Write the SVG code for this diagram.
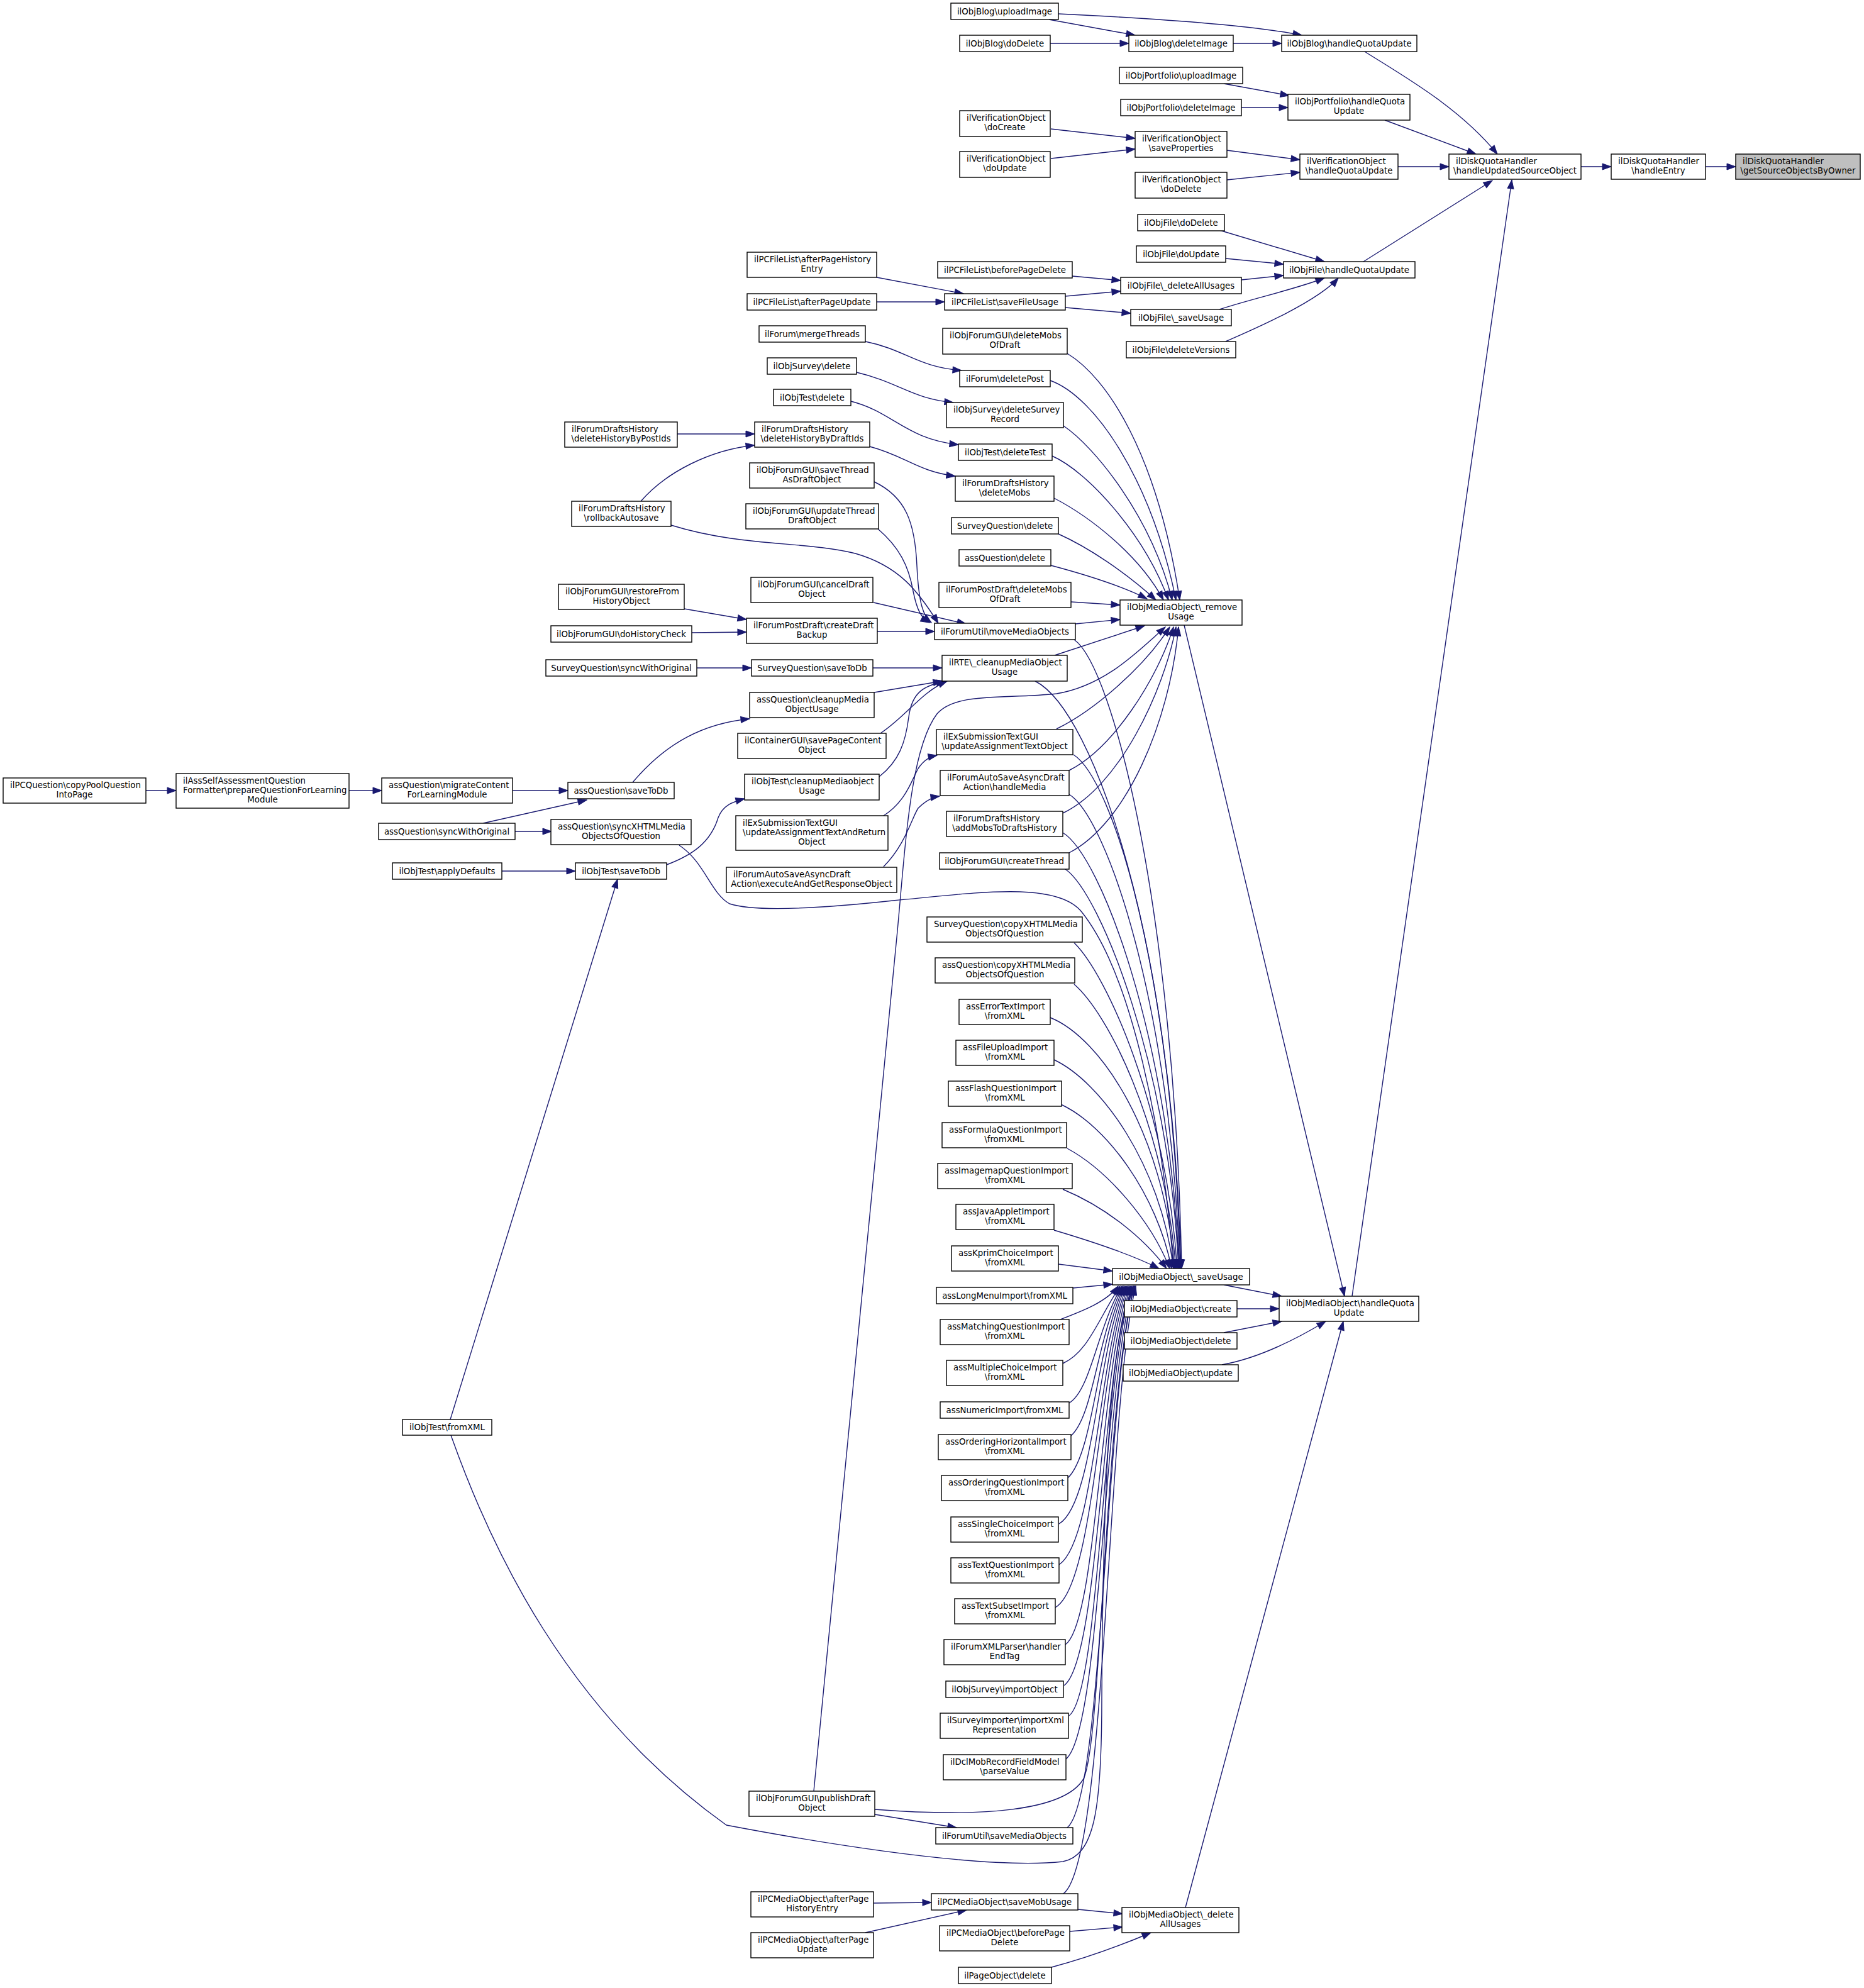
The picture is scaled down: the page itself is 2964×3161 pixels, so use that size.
<svg xmlns="http://www.w3.org/2000/svg" width="2964" height="3161" viewBox="0 0 2964 3161">
<style>
.node rect{fill:#fff;stroke:#000;stroke-width:1.4}
.root rect{fill:#bfbfbf}
text{font-family:"DejaVu Sans","Liberation Sans",sans-serif;font-size:13.33px;fill:#000}
.c{text-anchor:middle}
.l{text-anchor:start}
#edges path{fill:none;stroke:#191970;stroke-width:1.4;marker-end:url(#a)}
</style>
<defs>
<marker id="a" markerUnits="userSpaceOnUse" markerWidth="16" markerHeight="12" refX="14" refY="5" orient="auto" overflow="visible"><path d="M0,0 L14,5 L0,10 z" fill="#191970" stroke="#191970" stroke-width="1"/></marker>
</defs>
<rect width="2964" height="3161" fill="#fff"/>
<g id="edges">
<path d="M2712,265 L2760,265"/>
<path d="M2514,265 L2562,265"/>
<path d="M2170,82 C2230,120 2320,170 2381,245"/>
<path d="M2202,191 L2347,245"/>
<path d="M2223,265 L2304,265"/>
<path d="M2168,416 L2373,287"/>
<path d="M2150,2061 L2404,286"/>
<path d="M1683,22 C1850,30 1990,40 2070,56"/>
<path d="M1668,31 L1805,56"/>
<path d="M1670,69 L1795,69"/>
<path d="M1961,69 L2038,69"/>
<path d="M1946,133 L2050,152"/>
<path d="M1974,171 L2048,171"/>
<path d="M1671,205 L1805,220"/>
<path d="M1671,252 L1805,237"/>
<path d="M1951,239 L2067,254"/>
<path d="M1951,286 L2067,274"/>
<path d="M1939,366 L2106,416"/>
<path d="M1949,411 L2041,420"/>
<path d="M1974,445 L2041,438"/>
<path d="M1939,492 C1990,475 2060,460 2106,442"/>
<path d="M1949,543 C1990,525 2095,480 2128,442"/>
<path d="M1705,439 L1782,446"/>
<path d="M1694,471 L1782,463"/>
<path d="M1694,489 L1798,498"/>
<path d="M1394,441 L1532,467"/>
<path d="M1394,480 L1502,480"/>
<path d="M1376,543 C1440,556 1460,584 1529,589"/>
<path d="M1362,592 C1430,608 1450,634 1516,640"/>
<path d="M1353,638 C1420,655 1440,698 1524,707"/>
<path d="M1077,690 L1200,690"/>
<path d="M1019,797 C1060,750 1130,715 1200,708"/>
<path d="M1383,710 C1440,725 1460,750 1519,757"/>
<path d="M1067,835 C1180,870 1280,860 1360,880 C1430,900 1460,940 1492,991"/>
<path d="M1390,766 C1440,790 1455,830 1458,900 C1461,960 1468,980 1481,990"/>
<path d="M1396,841 C1430,870 1445,900 1452,940 C1458,970 1465,983 1478,990"/>
<path d="M1389,958 L1536,992"/>
<path d="M1395,1004 L1486,1004"/>
<path d="M1088,968 L1187,985"/>
<path d="M1100,1006 L1187,1005"/>
<path d="M1108,1062 L1195,1062"/>
<path d="M1388,1062 L1498,1062"/>
<path d="M1390,1101 L1498,1083"/>
<path d="M1400,1166 C1440,1140 1465,1100 1506,1083"/>
<path d="M1398,1235 C1430,1210 1440,1180 1445,1140 C1450,1100 1470,1090 1503,1083"/>
<path d="M1060,1375 C1100,1360 1130,1340 1142,1300 C1150,1280 1165,1275 1184,1270"/>
<path d="M1006,1244 C1060,1180 1120,1150 1192,1143"/>
<path d="M815,1257 L903,1257"/>
<path d="M768,1309 L933,1272"/>
<path d="M819,1322 L877,1322"/>
<path d="M798,1385 L915,1385"/>
<path d="M716,2257 L982,1398"/>
<path d="M232,1257 L280,1257"/>
<path d="M555,1257 L607,1257"/>
<path d="M1405,1378 C1440,1343 1450,1300 1460,1285 C1470,1275 1480,1268 1494,1266"/>
<path d="M1405,1297 C1440,1275 1450,1240 1460,1222 C1470,1207 1480,1203 1490,1201"/>
<path d="M1294,2848 L1427,1480 C1440,1340 1448,1190 1490,1135 C1520,1100 1600,1112 1680,1103 C1760,1090 1815,1030 1853,997"/>
<path d="M1697,562 C1760,600 1840,720 1876,954"/>
<path d="M1670,605 C1740,630 1830,760 1870,954"/>
<path d="M1691,677 C1740,710 1830,820 1864,954"/>
<path d="M1673,725 C1730,750 1820,850 1858,954"/>
<path d="M1676,792 C1730,820 1810,880 1850,954"/>
<path d="M1683,849 C1730,870 1790,910 1838,954"/>
<path d="M1671,899 C1720,912 1780,930 1824,952"/>
<path d="M1703,957 L1781,962"/>
<path d="M1710,992 L1781,985"/>
<path d="M1677,1042 L1820,995"/>
<path d="M1680,1159 C1740,1130 1820,1060 1860,997"/>
<path d="M1700,1225 C1770,1190 1840,1080 1866,997"/>
<path d="M1690,1293 C1780,1250 1850,1100 1870,997"/>
<path d="M1700,1356 C1790,1310 1860,1150 1874,997"/>
<path d="M1883,994 L2138,2061"/>
<path d="M1708,1017 C1770,1060 1868,1450 1879,2017"/>
<path d="M1646,1083 C1740,1130 1865,1500 1878,2017"/>
<path d="M1707,1200 C1770,1240 1865,1550 1877,2017"/>
<path d="M1700,1263 C1760,1300 1862,1600 1876,2017"/>
<path d="M1690,1324 C1750,1360 1860,1650 1875,2017"/>
<path d="M1694,1382 C1750,1420 1860,1700 1874,2017"/>
<path d="M1080,1344 C1120,1370 1130,1420 1160,1437 C1200,1450 1300,1445 1420,1432 C1550,1420 1680,1400 1720,1450 C1800,1550 1850,1800 1866,2017"/>
<path d="M1708,1499 C1760,1550 1855,1760 1872,2017"/>
<path d="M1708,1565 C1760,1610 1850,1780 1870,2017"/>
<path d="M1670,1618 C1750,1650 1850,1800 1868,2017"/>
<path d="M1676,1685 C1750,1720 1845,1850 1866,2017"/>
<path d="M1687,1756 C1760,1790 1840,1900 1863,2017"/>
<path d="M1697,1826 C1760,1860 1830,1940 1860,2017"/>
<path d="M1690,1891 C1760,1920 1820,1970 1855,2017"/>
<path d="M1676,1956 C1740,1975 1800,1995 1843,2017"/>
<path d="M1683,2010 L1769,2021"/>
<path d="M1706,2048 L1769,2042"/>
<path d="M1686,2098 C1720,2085 1760,2070 1778,2045"/>
<path d="M1690,2168 C1730,2150 1745,2100 1781,2045"/>
<path d="M1700,2231 C1735,2210 1745,2110 1784,2045"/>
<path d="M1703,2283 C1740,2250 1745,2120 1786,2045"/>
<path d="M1698,2350 C1740,2310 1745,2130 1788,2045"/>
<path d="M1684,2423 C1740,2390 1745,2140 1790,2045"/>
<path d="M1684,2488 C1742,2450 1747,2150 1792,2045"/>
<path d="M1678,2556 C1742,2520 1748,2160 1794,2045"/>
<path d="M1694,2615 C1745,2580 1750,2170 1796,2045"/>
<path d="M1692,2680 C1748,2640 1752,2180 1798,2045"/>
<path d="M1700,2728 C1750,2690 1753,2190 1800,2045"/>
<path d="M1695,2797 C1752,2750 1755,2200 1802,2045"/>
<path d="M1697,2906 C1755,2860 1757,2220 1804,2045"/>
<path d="M1691,3011 C1760,2960 1760,2230 1806,2045"/>
<path d="M1391,2877 C1560,2890 1690,2880 1722,2830 C1752,2780 1755,2250 1803,2045"/>
<path d="M717,2282 C780,2460 900,2720 1155,2902 C1250,2920 1550,2975 1690,2960 C1740,2950 1752,2880 1752,2700 C1754,2300 1770,2100 1805,2045"/>
<path d="M1391,2885 L1521,2906"/>
<path d="M1714,3036 L1785,3043"/>
<path d="M1701,3071 L1785,3064"/>
<path d="M1672,3128 C1740,3110 1790,3090 1830,3073"/>
<path d="M1389,3026 L1481,3025"/>
<path d="M1376,3073 L1537,3037"/>
<path d="M1885,3033 L2136,2101"/>
<path d="M1946,2043 L2038,2061"/>
<path d="M1967,2081 L2034,2081"/>
<path d="M1946,2119 L2038,2101"/>
<path d="M1943,2170 C2000,2160 2060,2130 2108,2101"/>
</g>
<g id="n0" class="node root"><rect x="2760" y="245" width="198" height="40"/><text class="l" x="2771" y="261">ilDiskQuotaHandler</text><text class="c" x="2859" y="276">\getSourceObjectsByOwner</text></g>
<g id="n1" class="node"><rect x="2562" y="245" width="150" height="40"/><text class="l" x="2573" y="261">ilDiskQuotaHandler</text><text class="c" x="2637" y="276">\handleEntry</text></g>
<g id="n2" class="node"><rect x="2304" y="245" width="210" height="40"/><text class="l" x="2315" y="261">ilDiskQuotaHandler</text><text class="c" x="2409" y="276">\handleUpdatedSourceObject</text></g>
<g id="n3" class="node"><rect x="2038" y="56" width="215" height="26"/><text class="c" x="2145.5" y="73.5">ilObjBlog\handleQuotaUpdate</text></g>
<g id="n4" class="node"><rect x="2048" y="150" width="194" height="41"/><text class="l" x="2059" y="166">ilObjPortfolio\handleQuota</text><text class="c" x="2145" y="181">Update</text></g>
<g id="n5" class="node"><rect x="2067" y="245" width="156" height="40"/><text class="l" x="2078" y="261">ilVerificationObject</text><text class="c" x="2145" y="276">\handleQuotaUpdate</text></g>
<g id="n6" class="node"><rect x="2041" y="416" width="209" height="26"/><text class="c" x="2145.5" y="433.5">ilObjFile\handleQuotaUpdate</text></g>
<g id="n7" class="node"><rect x="2034" y="2061" width="222" height="40"/><text class="l" x="2045" y="2077">ilObjMediaObject\handleQuota</text><text class="c" x="2145" y="2092">Update</text></g>
<g id="n8" class="node"><rect x="1795" y="56" width="166" height="26"/><text class="c" x="1878" y="73.5">ilObjBlog\deleteImage</text></g>
<g id="n9" class="node"><rect x="1780" y="107" width="196" height="26"/><text class="c" x="1878" y="124.5">ilObjPortfolio\uploadImage</text></g>
<g id="n10" class="node"><rect x="1782" y="158" width="192" height="26"/><text class="c" x="1878" y="175.5">ilObjPortfolio\deleteImage</text></g>
<g id="n11" class="node"><rect x="1805" y="209" width="146" height="41"/><text class="l" x="1816" y="225">ilVerificationObject</text><text class="c" x="1878" y="240">\saveProperties</text></g>
<g id="n12" class="node"><rect x="1805" y="274" width="146" height="41"/><text class="l" x="1816" y="290">ilVerificationObject</text><text class="c" x="1878" y="305">\doDelete</text></g>
<g id="n13" class="node"><rect x="1809" y="341" width="138" height="26"/><text class="c" x="1878" y="358.5">ilObjFile\doDelete</text></g>
<g id="n14" class="node"><rect x="1807" y="391" width="142" height="26"/><text class="c" x="1878" y="408.5">ilObjFile\doUpdate</text></g>
<g id="n15" class="node"><rect x="1782" y="441" width="192" height="26"/><text class="c" x="1878" y="458.5">ilObjFile\_deleteAllUsages</text></g>
<g id="n16" class="node"><rect x="1798" y="492" width="160" height="26"/><text class="c" x="1878" y="509.5">ilObjFile\_saveUsage</text></g>
<g id="n17" class="node"><rect x="1791" y="543" width="174" height="26"/><text class="c" x="1878" y="560.5">ilObjFile\deleteVersions</text></g>
<g id="n18" class="node"><rect x="1781" y="954" width="194" height="40"/><text class="l" x="1792" y="970">ilObjMediaObject\_remove</text><text class="c" x="1878" y="985">Usage</text></g>
<g id="n19" class="node"><rect x="1769" y="2017" width="218" height="26"/><text class="c" x="1878" y="2034.5">ilObjMediaObject\_saveUsage</text></g>
<g id="n20" class="node"><rect x="1788" y="2068" width="179" height="26"/><text class="c" x="1877.5" y="2085.5">ilObjMediaObject\create</text></g>
<g id="n21" class="node"><rect x="1788" y="2119" width="179" height="26"/><text class="c" x="1877.5" y="2136.5">ilObjMediaObject\delete</text></g>
<g id="n22" class="node"><rect x="1786" y="2170" width="183" height="26"/><text class="c" x="1877.5" y="2187.5">ilObjMediaObject\update</text></g>
<g id="n23" class="node"><rect x="1784" y="3033" width="186" height="40"/><text class="l" x="1795" y="3049">ilObjMediaObject\_delete</text><text class="c" x="1877" y="3064">AllUsages</text></g>
<g id="n24" class="node"><rect x="1512" y="5" width="171" height="26"/><text class="c" x="1597.5" y="22.5">ilObjBlog\uploadImage</text></g>
<g id="n25" class="node"><rect x="1526" y="56" width="144" height="26"/><text class="c" x="1598" y="73.5">ilObjBlog\doDelete</text></g>
<g id="n26" class="node"><rect x="1526" y="176" width="144" height="41"/><text class="l" x="1537" y="192">ilVerificationObject</text><text class="c" x="1598" y="207">\doCreate</text></g>
<g id="n27" class="node"><rect x="1526" y="241" width="144" height="41"/><text class="l" x="1537" y="257">ilVerificationObject</text><text class="c" x="1598" y="272">\doUpdate</text></g>
<g id="n28" class="node"><rect x="1491" y="416" width="214" height="26"/><text class="c" x="1598" y="433.5">ilPCFileList\beforePageDelete</text></g>
<g id="n29" class="node"><rect x="1502" y="467" width="192" height="26"/><text class="c" x="1598" y="484.5">ilPCFileList\saveFileUsage</text></g>
<g id="n30" class="node"><rect x="1499" y="522" width="198" height="41"/><text class="l" x="1510" y="538">ilObjForumGUI\deleteMobs</text><text class="c" x="1598" y="553">OfDraft</text></g>
<g id="n31" class="node"><rect x="1526" y="589" width="144" height="26"/><text class="c" x="1598" y="606.5">ilForum\deletePost</text></g>
<g id="n32" class="node"><rect x="1505" y="640" width="186" height="40"/><text class="l" x="1516" y="656">ilObjSurvey\deleteSurvey</text><text class="c" x="1598" y="671">Record</text></g>
<g id="n33" class="node"><rect x="1524" y="706" width="149" height="26"/><text class="c" x="1598.5" y="723.5">ilObjTest\deleteTest</text></g>
<g id="n34" class="node"><rect x="1519" y="757" width="157" height="40"/><text class="l" x="1530" y="773">ilForumDraftsHistory</text><text class="c" x="1597.5" y="788">\deleteMobs</text></g>
<g id="n35" class="node"><rect x="1513" y="823" width="170" height="26"/><text class="c" x="1598" y="840.5">SurveyQuestion\delete</text></g>
<g id="n36" class="node"><rect x="1525" y="874" width="146" height="26"/><text class="c" x="1598" y="891.5">assQuestion\delete</text></g>
<g id="n37" class="node"><rect x="1493" y="926" width="210" height="40"/><text class="l" x="1504" y="942">ilForumPostDraft\deleteMobs</text><text class="c" x="1598" y="957">OfDraft</text></g>
<g id="n38" class="node"><rect x="1486" y="991" width="224" height="26"/><text class="c" x="1598" y="1008.5">ilForumUtil\moveMediaObjects</text></g>
<g id="n39" class="node"><rect x="1498" y="1042" width="199" height="41"/><text class="l" x="1509" y="1058">ilRTE\_cleanupMediaObject</text><text class="c" x="1597.5" y="1073">Usage</text></g>
<g id="n40" class="node"><rect x="1489" y="1160" width="217" height="40"/><text class="l" x="1500" y="1176">ilExSubmissionTextGUI</text><text class="c" x="1597.5" y="1191">\updateAssignmentTextObject</text></g>
<g id="n41" class="node"><rect x="1495" y="1225" width="205" height="40"/><text class="l" x="1506" y="1241">ilForumAutoSaveAsyncDraft</text><text class="c" x="1597.5" y="1256">Action\handleMedia</text></g>
<g id="n42" class="node"><rect x="1505" y="1290" width="185" height="40"/><text class="l" x="1516" y="1306">ilForumDraftsHistory</text><text class="c" x="1597.5" y="1321">\addMobsToDraftsHistory</text></g>
<g id="n43" class="node"><rect x="1494" y="1356" width="206" height="26"/><text class="c" x="1597" y="1373.5">ilObjForumGUI\createThread</text></g>
<g id="n44" class="node"><rect x="1474" y="1458" width="247" height="40"/><text class="l" x="1485" y="1474">SurveyQuestion\copyXHTMLMedia</text><text class="c" x="1597.5" y="1489">ObjectsOfQuestion</text></g>
<g id="n45" class="node"><rect x="1487" y="1523" width="222" height="40"/><text class="l" x="1498" y="1539">assQuestion\copyXHTMLMedia</text><text class="c" x="1598" y="1554">ObjectsOfQuestion</text></g>
<g id="n46" class="node"><rect x="1525" y="1589" width="145" height="40"/><text class="l" x="1536" y="1605">assErrorTextImport</text><text class="c" x="1597.5" y="1620">\fromXML</text></g>
<g id="n47" class="node"><rect x="1520" y="1654" width="156" height="40"/><text class="l" x="1531" y="1670">assFileUploadImport</text><text class="c" x="1598" y="1685">\fromXML</text></g>
<g id="n48" class="node"><rect x="1508" y="1719" width="180" height="40"/><text class="l" x="1519" y="1735">assFlashQuestionImport</text><text class="c" x="1598" y="1750">\fromXML</text></g>
<g id="n49" class="node"><rect x="1498" y="1785" width="198" height="40"/><text class="l" x="1509" y="1801">assFormulaQuestionImport</text><text class="c" x="1597" y="1816">\fromXML</text></g>
<g id="n50" class="node"><rect x="1491" y="1850" width="214" height="40"/><text class="l" x="1502" y="1866">assImagemapQuestionImport</text><text class="c" x="1598" y="1881">\fromXML</text></g>
<g id="n51" class="node"><rect x="1520" y="1915" width="156" height="40"/><text class="l" x="1531" y="1931">assJavaAppletImport</text><text class="c" x="1598" y="1946">\fromXML</text></g>
<g id="n52" class="node"><rect x="1513" y="1981" width="170" height="40"/><text class="l" x="1524" y="1997">assKprimChoiceImport</text><text class="c" x="1598" y="2012">\fromXML</text></g>
<g id="n53" class="node"><rect x="1489" y="2047" width="217" height="26"/><text class="c" x="1597.5" y="2064.5">assLongMenuImport\fromXML</text></g>
<g id="n54" class="node"><rect x="1495" y="2098" width="205" height="40"/><text class="l" x="1506" y="2114">assMatchingQuestionImport</text><text class="c" x="1597.5" y="2129">\fromXML</text></g>
<g id="n55" class="node"><rect x="1505" y="2163" width="185" height="40"/><text class="l" x="1516" y="2179">assMultipleChoiceImport</text><text class="c" x="1597.5" y="2194">\fromXML</text></g>
<g id="n56" class="node"><rect x="1495" y="2229" width="205" height="26"/><text class="c" x="1597.5" y="2246.5">assNumericImport\fromXML</text></g>
<g id="n57" class="node"><rect x="1492" y="2281" width="211" height="40"/><text class="l" x="1503" y="2297">assOrderingHorizontalImport</text><text class="c" x="1597.5" y="2312">\fromXML</text></g>
<g id="n58" class="node"><rect x="1497" y="2346" width="201" height="40"/><text class="l" x="1508" y="2362">assOrderingQuestionImport</text><text class="c" x="1597.5" y="2377">\fromXML</text></g>
<g id="n59" class="node"><rect x="1512" y="2412" width="171" height="40"/><text class="l" x="1523" y="2428">assSingleChoiceImport</text><text class="c" x="1597.5" y="2443">\fromXML</text></g>
<g id="n60" class="node"><rect x="1512" y="2477" width="172" height="40"/><text class="l" x="1523" y="2493">assTextQuestionImport</text><text class="c" x="1598" y="2508">\fromXML</text></g>
<g id="n61" class="node"><rect x="1518" y="2542" width="160" height="40"/><text class="l" x="1529" y="2558">assTextSubsetImport</text><text class="c" x="1598" y="2573">\fromXML</text></g>
<g id="n62" class="node"><rect x="1501" y="2607" width="193" height="40"/><text class="l" x="1512" y="2623">ilForumXMLParser\handler</text><text class="c" x="1597.5" y="2638">EndTag</text></g>
<g id="n63" class="node"><rect x="1504" y="2673" width="187" height="26"/><text class="c" x="1597.5" y="2690.5">ilObjSurvey\importObject</text></g>
<g id="n64" class="node"><rect x="1495" y="2724" width="204" height="40"/><text class="l" x="1506" y="2740">ilSurveyImporter\importXml</text><text class="c" x="1597" y="2755">Representation</text></g>
<g id="n65" class="node"><rect x="1500" y="2790" width="195" height="40"/><text class="l" x="1511" y="2806">ilDclMobRecordFieldModel</text><text class="c" x="1597.5" y="2821">\parseValue</text></g>
<g id="n66" class="node"><rect x="1488" y="2906" width="218" height="26"/><text class="c" x="1597" y="2923.5">ilForumUtil\saveMediaObjects</text></g>
<g id="n67" class="node"><rect x="1481" y="3011" width="233" height="26"/><text class="c" x="1597.5" y="3028.5">ilPCMediaObject\saveMobUsage</text></g>
<g id="n68" class="node"><rect x="1494" y="3062" width="207" height="40"/><text class="l" x="1505" y="3078">ilPCMediaObject\beforePage</text><text class="c" x="1597.5" y="3093">Delete</text></g>
<g id="n69" class="node"><rect x="1524" y="3128" width="148" height="26"/><text class="c" x="1598" y="3145.5">ilPageObject\delete</text></g>
<g id="n70" class="node"><rect x="1188" y="401" width="206" height="40"/><text class="l" x="1199" y="417">ilPCFileList\afterPageHistory</text><text class="c" x="1291" y="432">Entry</text></g>
<g id="n71" class="node"><rect x="1188" y="467" width="206" height="26"/><text class="c" x="1291" y="484.5">ilPCFileList\afterPageUpdate</text></g>
<g id="n72" class="node"><rect x="1207" y="518" width="169" height="26"/><text class="c" x="1291.5" y="535.5">ilForum\mergeThreads</text></g>
<g id="n73" class="node"><rect x="1220" y="569" width="142" height="26"/><text class="c" x="1291" y="586.5">ilObjSurvey\delete</text></g>
<g id="n74" class="node"><rect x="1230" y="619" width="123" height="26"/><text class="c" x="1291.5" y="636.5">ilObjTest\delete</text></g>
<g id="n75" class="node"><rect x="1200" y="671" width="183" height="40"/><text class="l" x="1211" y="687">ilForumDraftsHistory</text><text class="c" x="1291.5" y="702">\deleteHistoryByDraftIds</text></g>
<g id="n76" class="node"><rect x="1192" y="736" width="198" height="40"/><text class="l" x="1203" y="752">ilObjForumGUI\saveThread</text><text class="c" x="1291" y="767">AsDraftObject</text></g>
<g id="n77" class="node"><rect x="1186" y="801" width="211" height="40"/><text class="l" x="1197" y="817">ilObjForumGUI\updateThread</text><text class="c" x="1291.5" y="832">DraftObject</text></g>
<g id="n78" class="node"><rect x="1194" y="918" width="194" height="40"/><text class="l" x="1205" y="934">ilObjForumGUI\cancelDraft</text><text class="c" x="1291" y="949">Object</text></g>
<g id="n79" class="node"><rect x="1187" y="983" width="208" height="40"/><text class="l" x="1198" y="999">ilForumPostDraft\createDraft</text><text class="c" x="1291" y="1014">Backup</text></g>
<g id="n80" class="node"><rect x="1195" y="1049" width="193" height="26"/><text class="c" x="1291.5" y="1066.5">SurveyQuestion\saveToDb</text></g>
<g id="n81" class="node"><rect x="1192" y="1101" width="198" height="40"/><text class="l" x="1203" y="1117">assQuestion\cleanupMedia</text><text class="c" x="1291" y="1132">ObjectUsage</text></g>
<g id="n82" class="node"><rect x="1173" y="1166" width="236" height="40"/><text class="l" x="1184" y="1182">ilContainerGUI\savePageContent</text><text class="c" x="1291" y="1197">Object</text></g>
<g id="n83" class="node"><rect x="1184" y="1231" width="214" height="41"/><text class="l" x="1195" y="1247">ilObjTest\cleanupMediaobject</text><text class="c" x="1291" y="1262">Usage</text></g>
<g id="n84" class="node"><rect x="1170" y="1297" width="242" height="55"/><text class="l" x="1181" y="1313">ilExSubmissionTextGUI</text><text class="l" x="1181" y="1328">\updateAssignmentTextAndReturn</text><text class="c" x="1291" y="1343">Object</text></g>
<g id="n85" class="node"><rect x="1155" y="1379" width="271" height="40"/><text class="l" x="1166" y="1395">ilForumAutoSaveAsyncDraft</text><text class="c" x="1290.5" y="1410">Action\executeAndGetResponseObject</text></g>
<g id="n86" class="node"><rect x="1191" y="2848" width="200" height="40"/><text class="l" x="1202" y="2864">ilObjForumGUI\publishDraft</text><text class="c" x="1291" y="2879">Object</text></g>
<g id="n87" class="node"><rect x="1194" y="3008" width="195" height="40"/><text class="l" x="1205" y="3024">ilPCMediaObject\afterPage</text><text class="c" x="1291.5" y="3039">HistoryEntry</text></g>
<g id="n88" class="node"><rect x="1194" y="3073" width="195" height="40"/><text class="l" x="1205" y="3089">ilPCMediaObject\afterPage</text><text class="c" x="1291.5" y="3104">Update</text></g>
<g id="n89" class="node"><rect x="898" y="671" width="179" height="40"/><text class="l" x="909" y="687">ilForumDraftsHistory</text><text class="c" x="987.5" y="702">\deleteHistoryByPostIds</text></g>
<g id="n90" class="node"><rect x="909" y="797" width="158" height="40"/><text class="l" x="920" y="813">ilForumDraftsHistory</text><text class="c" x="988" y="828">\rollbackAutosave</text></g>
<g id="n91" class="node"><rect x="888" y="929" width="200" height="40"/><text class="l" x="899" y="945">ilObjForumGUI\restoreFrom</text><text class="c" x="988" y="960">HistoryObject</text></g>
<g id="n92" class="node"><rect x="876" y="995" width="224" height="26"/><text class="c" x="988" y="1012.5">ilObjForumGUI\doHistoryCheck</text></g>
<g id="n93" class="node"><rect x="868" y="1049" width="240" height="26"/><text class="c" x="988" y="1066.5">SurveyQuestion\syncWithOriginal</text></g>
<g id="n94" class="node"><rect x="903" y="1244" width="169" height="26"/><text class="c" x="987.5" y="1261.5">assQuestion\saveToDb</text></g>
<g id="n95" class="node"><rect x="876" y="1303" width="223" height="40"/><text class="l" x="887" y="1319">assQuestion\syncXHTMLMedia</text><text class="c" x="987.5" y="1334">ObjectsOfQuestion</text></g>
<g id="n96" class="node"><rect x="915" y="1372" width="145" height="26"/><text class="c" x="987.5" y="1389.5">ilObjTest\saveToDb</text></g>
<g id="n97" class="node"><rect x="607" y="1237" width="208" height="40"/><text class="l" x="618" y="1253">assQuestion\migrateContent</text><text class="c" x="711" y="1268">ForLearningModule</text></g>
<g id="n98" class="node"><rect x="602" y="1309" width="217" height="26"/><text class="c" x="710.5" y="1326.5">assQuestion\syncWithOriginal</text></g>
<g id="n99" class="node"><rect x="624" y="1372" width="174" height="26"/><text class="c" x="711" y="1389.5">ilObjTest\applyDefaults</text></g>
<g id="n100" class="node"><rect x="640" y="2257" width="142" height="25"/><text class="c" x="711" y="2274">ilObjTest\fromXML</text></g>
<g id="n101" class="node"><rect x="280" y="1230" width="275" height="55"/><text class="l" x="291" y="1246">ilAssSelfAssessmentQuestion</text><text class="l" x="291" y="1261">Formatter\prepareQuestionForLearning</text><text class="c" x="417.5" y="1276">Module</text></g>
<g id="n102" class="node"><rect x="5" y="1237" width="227" height="40"/><text class="l" x="16" y="1253">ilPCQuestion\copyPoolQuestion</text><text class="c" x="118.5" y="1268">IntoPage</text></g>
</svg>
